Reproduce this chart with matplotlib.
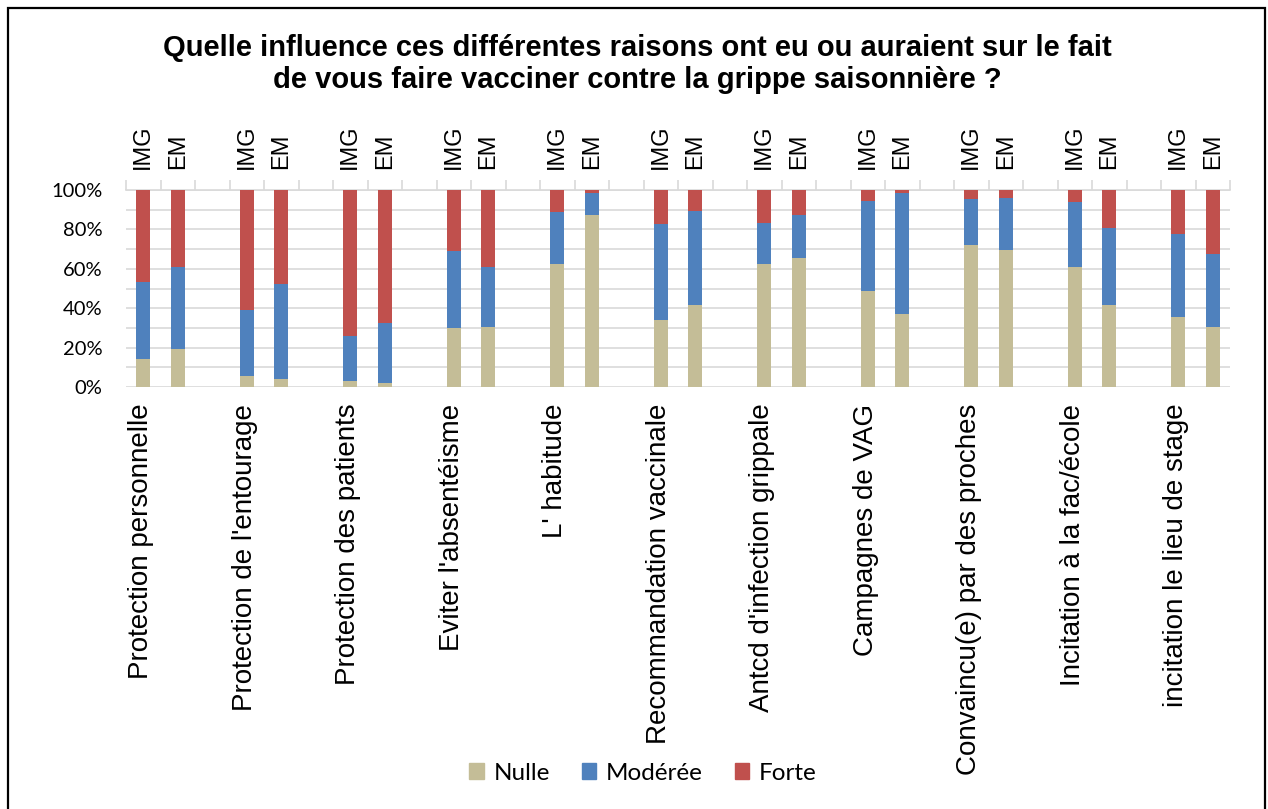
import matplotlib
matplotlib.use("Agg")
import matplotlib.pyplot as plt
import matplotlib.patches as mpatches
import numpy as np

# ---- data (percent) ----
categories = ["Protection personnelle", "Protection de l'entourage", "Protection des patients",
              "Eviter l'absentéisme", "L' habitude", "Recommandation vaccinale",
              "Antcd d'infection grippale", "Campagnes de VAG", "Convaincu(e) par des proches",
              "Incitation à la fac/école", "incitation le lieu de stage"]
subgroups = ["IMG", "EM"]
series_names = ["Nulle", "Modérée", "Forte"]

nulle_img   = [14.1, 5.8, 2.9, 30.2, 62.4, 34.2, 62.4, 48.5, 71.9, 60.7, 35.6]
moderee_img = [39.3, 33.2, 23.0, 38.6, 26.6, 48.3, 20.8, 45.7, 23.4, 33.0, 42.0]
forte_img   = [46.6, 61.0, 74.1, 31.2, 11.0, 17.5, 16.8, 5.8, 4.7, 6.3, 22.4]

nulle_em    = [19.5, 4.2, 1.9, 30.3, 87.3, 41.4, 65.4, 36.9, 69.7, 41.4, 30.3]
moderee_em  = [41.5, 48.0, 30.6, 30.7, 11.0, 47.8, 21.7, 61.4, 26.1, 39.3, 37.3]
forte_em    = [39.0, 47.8, 67.5, 39.0, 1.7, 10.8, 12.9, 1.7, 4.2, 19.3, 32.4]

colors = ["#C4BD97", "#4F81BD", "#C0504D"]
title = "Quelle influence ces différentes raisons ont eu ou auraient sur le fait\nde vous faire vacciner contre la grippe saisonnière ?"

# ---- figure ----
W, H = 1268, 809
fig = plt.figure(figsize=(W / 100, H / 100), dpi=100)
fig.patch.set_facecolor("white")

left, right = 126 / W, 1230 / W
bottom, top = 1 - 387 / H, 1 - 190 / H
ax = fig.add_axes([left, bottom, right - left, top - bottom])

n = len(categories)
x_img = np.arange(n) * 3 + 0.5
x_em = np.arange(n) * 3 + 1.5
bw = 0.41

img_series = [nulle_img, moderee_img, forte_img]
em_series = [nulle_em, moderee_em, forte_em]

for xs, series in ((x_img, img_series), (x_em, em_series)):
    base = np.zeros(n)
    for vals, col, name in zip(series, colors, series_names):
        v = np.array(vals)
        ax.bar(xs, v, bw, bottom=base, color=col, zorder=3, linewidth=0)
        base += v

ax.set_xlim(0, 3 * n - 1)
ax.set_ylim(0, 100)
ax.set_yticks(np.arange(0, 101, 20))
ax.set_yticks(np.arange(0, 101, 10), minor=True)
ax.set_yticklabels([f"{v}%" for v in range(0, 101, 20)], family="Lato", fontsize=14.5)
ax.tick_params(axis="y", which="both", length=0, pad=17)
ax.grid(axis="y", which="both", color="#d9d9d9", linewidth=1.2, zorder=0)
for s in ["left", "right", "bottom"]:
    ax.spines[s].set_visible(False)
ax.spines["top"].set_color("#d9d9d9")
ax.spines["top"].set_linewidth(1.2)

# top category ticks at slot boundaries
ax.xaxis.tick_top()
ax.set_xticks(np.arange(0, 3 * n))
ax.set_xticklabels([])
ax.tick_params(axis="x", which="major", direction="out", length=7.5, width=1.2,
               color="#d9d9d9", top=True, bottom=False)

# subgroup labels (IMG / EM) above
for g in range(n):
    for xs, lab in ((x_img, subgroups[0]), (x_em, subgroups[1])):
        ax.annotate(lab, xy=(xs[g], 1.0), xycoords=("data", "axes fraction"),
                    xytext=(0, 15), textcoords="offset points",
                    rotation=90, ha="center", va="bottom",
                    family="Liberation Sans", fontsize=17)

# group labels below
for g, cat in enumerate(categories):
    ax.annotate(cat, xy=(x_img[g] - 0.06, 0.0), xycoords=("data", "axes fraction"),
                xytext=(0, -12), textcoords="offset points",
                rotation=90, ha="center", va="top",
                family="Liberation Sans", fontsize=20)

# title
fig.text(0.503, 1 - 64 / H, title, ha="center", va="center", family="Liberation Sans",
         fontweight="bold", fontsize=21, linespacing=1.2)

# legend
handles = [mpatches.Patch(color=c, label=l) for c, l in zip(colors, series_names)]
fig.legend(handles=handles, loc="center", bbox_to_anchor=(643 / W, 1 - 773 / H),
           ncol=3, frameon=False, prop={"family": "Lato", "size": 17.5},
           handlelength=0.6, handleheight=0.6, handletextpad=0.4, columnspacing=1.3)

# outer border
fig.add_artist(mpatches.Rectangle((8 / W, -0.01), (1265 - 8) / W, 1 - 8 / H + 0.01,
                                  transform=fig.transFigure, fill=False,
                                  edgecolor="black", linewidth=1.6))

fig.savefig("out.png", dpi=100)
